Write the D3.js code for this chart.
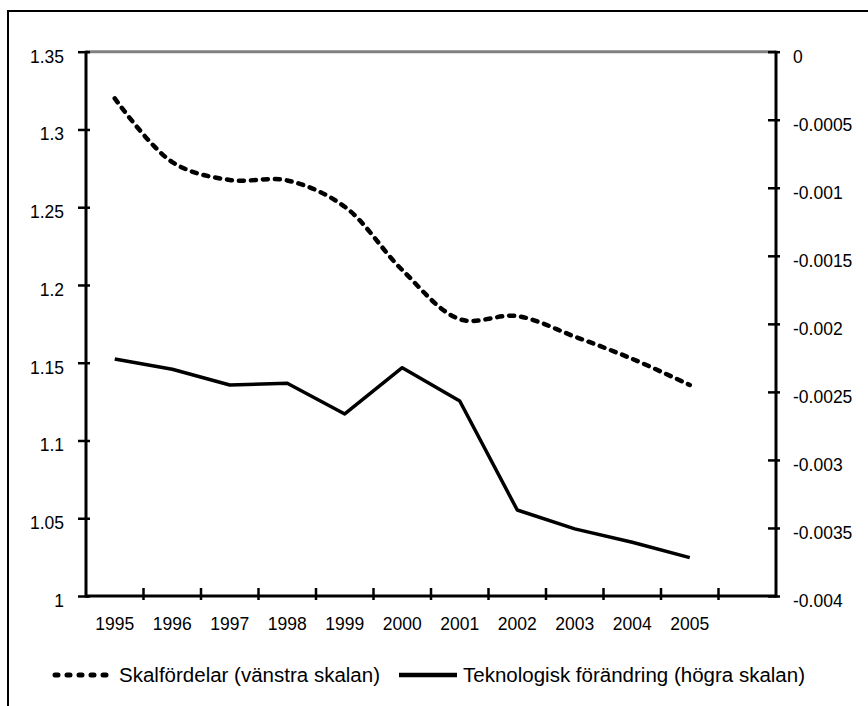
<!DOCTYPE html>
<html lang="sv">
<head>
    <meta charset="UTF-8">
    <title>Skalfördelar och teknologisk förändring</title>
    <script src="https://d3js.org/d3.v7.min.js"></script>
    <style>
        body { margin: 0; background: #fff; }
        text { font-family: "Liberation Sans", Arial, sans-serif; font-size: 17.5px; fill: #000; }
        .legend text { font-size: 20px; }
    </style>
</head>
<body>
    <svg></svg>

    <script>
        const w = 868;
        const h = 706;

        const years = ["1995", "1996", "1997", "1998", "1999", "2000", "2001", "2002", "2003", "2004", "2005"];
        const scale = [1.320, 1.279, 1.2675, 1.2672, 1.2503, 1.2096, 1.178, 1.180, 1.1668, 1.1525, 1.1357];
        const tech = [-0.002258, -0.002334, -0.002449, -0.002437, -0.002662, -0.002322, -0.002567, -0.003368, -0.003507, -0.003605, -0.003718];
        const leftTicks = [1, 1.05, 1.1, 1.15, 1.2, 1.25, 1.3, 1.35];
        const leftLabels = ["1", "1.05", "1.1", "1.15", "1.2", "1.25", "1.3", "1.35"];
        const rightTicks = [-0.004, -0.0035, -0.003, -0.0025, -0.002, -0.0015, -0.001, -0.0005, 0];
        const rightLabels = ["-0.004", "-0.0035", "-0.003", "-0.0025", "-0.002", "-0.0015", "-0.001", "-0.0005", "0"];
        const seriesNames = ["Skalfördelar (vänstra skalan)", "Teknologisk förändring (högra skalan)"];

        const pLeft = 86, pRight = 776, pTop = 51.7, pBottom = 596;

        const svg = d3.select("svg").attr("width", w).attr("height", h);

        // outer frame (runs past right/bottom edge like the source)
        svg.append("rect")
            .attr("x", 8).attr("y", 11)
            .attr("width", 900).attr("height", 800)
            .attr("fill", "none").attr("stroke", "#000").attr("stroke-width", 2);

        // one extra empty slot after 2005
        const slots = years.concat([""]);
        const x = d3.scaleBand().domain(slots).range([pLeft, pRight]);
        const yL = d3.scaleLinear().domain([1, 1.35]).range([pBottom, pTop]);
        const yR = d3.scaleLinear().domain([-0.004, 0]).range([pBottom, pTop]);
        const cx = d => x(d) + x.bandwidth() / 2;

        // top line of plot area
        svg.append("line")
            .attr("x1", pLeft).attr("x2", pRight)
            .attr("y1", yL(1.35)).attr("y2", yL(1.35))
            .attr("stroke", "#808080").attr("stroke-width", 3);

        // left axis
        const gl = svg.append("g")
            .attr("transform", `translate(${pLeft},0)`)
            .call(d3.axisLeft(yL).tickValues(leftTicks)
                .tickFormat((d, i) => leftLabels[i]).tickSize(8).tickPadding(15));
        gl.select(".domain").remove();
        gl.selectAll(".tick line").attr("x2", 4).attr("x1", -8).attr("stroke", "#000").attr("stroke-width", 2.5);
        gl.selectAll(".tick text").attr("dy", "0.6em").attr("x", -22).attr("font-size", null).attr("font-family", null);

        // right axis
        const gr = svg.append("g")
            .attr("transform", `translate(${pRight},0)`)
            .call(d3.axisRight(yR).tickValues(rightTicks)
                .tickFormat((d, i) => rightLabels[i]).tickSize(8).tickPadding(9));
        gr.select(".domain").remove();
        gr.selectAll(".tick line").attr("x1", -8).attr("x2", 4).attr("stroke", "#000").attr("stroke-width", 2.5);
        gr.selectAll(".tick text").attr("dy", "0.6em").attr("x", 17).attr("font-size", null).attr("font-family", null);

        // bottom axis labels
        const gb = svg.append("g")
            .attr("transform", `translate(0,${pBottom})`)
            .call(d3.axisBottom(x).tickValues(years).tickSize(0).tickPadding(22));
        gb.select(".domain").remove();
        gb.selectAll(".tick text").attr("font-size", null).attr("font-family", null);

        // category boundary ticks
        svg.append("g").selectAll("line")
            .data(slots.slice(1))
            .join("line")
                .attr("x1", d => x(d)).attr("x2", d => x(d))
                .attr("y1", pBottom - 8).attr("y2", pBottom + 4)
                .attr("stroke", "#000").attr("stroke-width", 2.5);

        // axis lines
        svg.append("line")
            .attr("x1", pLeft).attr("x2", pLeft).attr("y1", pTop - 1).attr("y2", pBottom + 1.5)
            .attr("stroke", "#000").attr("stroke-width", 3);
        svg.append("line")
            .attr("x1", pRight).attr("x2", pRight).attr("y1", pTop - 1).attr("y2", pBottom + 1.5)
            .attr("stroke", "#000").attr("stroke-width", 3);
        svg.append("line")
            .attr("x1", pLeft).attr("x2", pRight).attr("y1", pBottom).attr("y2", pBottom)
            .attr("stroke", "#000").attr("stroke-width", 3);

        // series
        const dashed = d3.line()
            .x((d, i) => cx(years[i]))
            .y(d => yL(d))
            .curve(d3.curveCatmullRom);
        svg.append("path")
            .attr("d", dashed(scale))
            .attr("fill", "none").attr("stroke", "#000")
            .attr("stroke-width", 4.5)
            .attr("stroke-linecap", "round")
            .attr("stroke-dasharray", "5,7");

        const solid = d3.line()
            .x((d, i) => cx(years[i]))
            .y(d => yR(d));
        svg.append("path")
            .attr("d", solid(tech))
            .attr("fill", "none").attr("stroke", "#000")
            .attr("stroke-width", 3.5)
            .attr("stroke-linejoin", "round");

        // legend
        const legend = svg.append("g").attr("class", "legend").attr("transform", "translate(0,675)");
        legend.append("line")
            .attr("x1", 55).attr("x2", 113).attr("y1", 0).attr("y2", 0)
            .attr("stroke", "#000").attr("stroke-width", 5)
            .attr("stroke-linecap", "round").attr("stroke-dasharray", "3,9");
        legend.append("text")
            .attr("x", 119).attr("dy", "0.35em")
            .attr("textLength", 261).attr("lengthAdjust", "spacingAndGlyphs")
            .text(seriesNames[0]);
        legend.append("line")
            .attr("x1", 399).attr("x2", 457).attr("y1", 0).attr("y2", 0)
            .attr("stroke", "#000").attr("stroke-width", 4.5);
        legend.append("text")
            .attr("x", 463).attr("dy", "0.35em")
            .attr("textLength", 342).attr("lengthAdjust", "spacingAndGlyphs")
            .text(seriesNames[1]);
    </script>
</body>
</html>
